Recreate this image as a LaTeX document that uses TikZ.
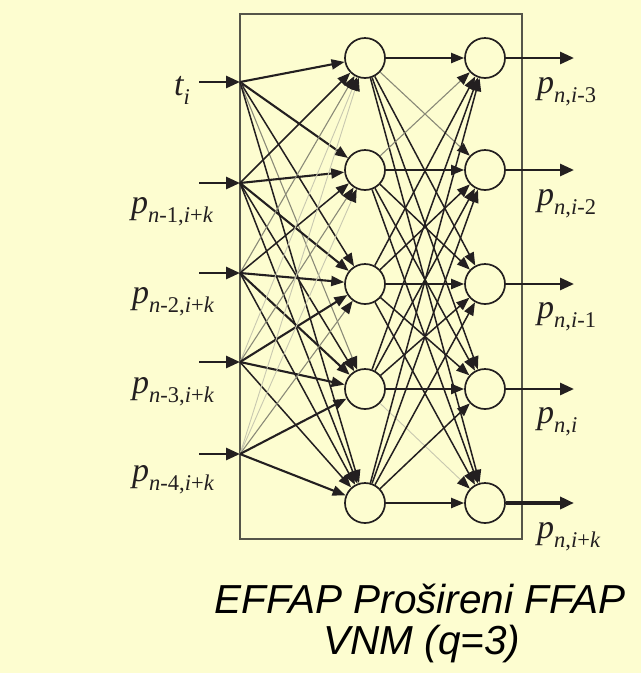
\documentclass[tikz,border=0pt]{standalone}
\usepackage{fontspec}
\setmainfont{Liberation Serif}
\newfontfamily\titlefont{Liberation Sans}
\usetikzlibrary{arrows.meta}
\definecolor{bg}{HTML}{FDFDD0}
\definecolor{ink}{HTML}{231F20}
\definecolor{boxc}{HTML}{55554A}
\definecolor{midg}{HTML}{8A8A78}
\definecolor{lightg}{HTML}{C8C8B0}
\newcommand{\mainp}[1]{{\fontsize{34}{34}\selectfont\itshape #1}}
\newcommand{\subt}[1]{\raisebox{-9pt}{\fontsize{22.5}{22.5}\selectfont #1}}
\tikzset{
  neuron/.style={circle, draw=ink, line width=1.7pt, fill=bg, minimum size=40pt, inner sep=0pt},
  tipS/.style={-{Triangle[length=13pt,width=10pt,color=ink]}},
  wA/.style={tipS, draw=ink, line width=2.1pt},
  wB/.style={tipS, draw=ink, line width=1.5pt},
  wC/.style={tipS, draw=midg, line width=1.1pt},
  wD/.style={tipS, draw=lightg, line width=0.9pt},
  inarrow/.style={draw=ink, line width=2.8pt, -{Triangle[length=14pt,width=12pt]}},
  outarrow/.style={draw=ink, line width=2.8pt, -{Triangle[length=14pt,width=12pt]}},
  outthick/.style={draw=ink, line width=4.2pt, -{Triangle[length=14pt,width=12pt]}},
  lab/.style={anchor=base west, inner sep=0pt, text=ink},
  ttl/.style={anchor=base, inner sep=0pt, text=black, font=\titlefont\itshape\fontsize{40.5}{42}\selectfont}
}
\begin{document}
\begin{tikzpicture}[x=1pt,y=-1pt]
\fill[bg] (0,0) rectangle (641,673);
\useasboundingbox (0,0) rectangle (641,673);
\draw[boxc, line width=2pt] (240,14) rectangle (522,539);
% input points
\foreach \i/\y in {1/82,2/183,3/273,4/362,5/454}{
  \coordinate (in\i) at (240,\y);
  \coordinate (s\i) at (199,\y);
}
% hidden and output neurons
\foreach \j/\y in {1/58,2/170,3/284,4/389,5/503}{
  \node[neuron] (h\j) at (365,\y) {};
  \node[neuron] (o\j) at (485,\y) {};
  \coordinate (e\j) at (574,\y);
}
% input arrows
\foreach \i in {1,...,5}{ \draw[inarrow] (s\i) -- (in\i); }
% input -> hidden
\foreach \i/\j/\s in {
  1/1/wA,1/2/wA,1/3/wB,1/4/wC,1/5/wB,
  2/1/wB,2/2/wA,2/3/wA,2/4/wB,2/5/wB,
  3/1/wC,3/2/wB,3/3/wA,3/4/wA,3/5/wB,
  4/1/wD,4/2/wC,4/3/wA,4/4/wA,4/5/wB,
  5/1/wD,5/2/wD,5/3/wC,5/4/wA,5/5/wA}{
  \draw[\s] (in\i) -- (h\j);
}
% hidden -> output
\foreach \j/\k/\s in {
  1/1/wA,1/2/wC,1/3/wB,1/4/wB,1/5/wB,
  2/1/wC,2/2/wA,2/3/wB,2/4/wB,2/5/wB,
  3/1/wB,3/2/wB,3/3/wA,3/4/wB,3/5/wB,
  4/1/wB,4/2/wB,4/3/wB,4/4/wA,4/5/wD,
  5/1/wB,5/2/wB,5/3/wB,5/4/wB,5/5/wA}{
  \draw[\s] (h\j) -- (o\k);
}
% output arrows
\foreach \k in {1,...,4}{ \draw[outarrow] (o\k.east) -- (e\k); }
\draw[outthick] (o5.east) -- (e5);
% input labels
\node[lab] (lt) at (174,95) {\mainp{t}\subt{\itshape i}};
\node[lab] (l2) at (131,213) {\mainp{p}\subt{{\itshape n}-1,{\itshape i}+{\itshape k}}};
\node[lab] (l3) at (132,303) {\mainp{p}\subt{{\itshape n}-2,{\itshape i}+{\itshape k}}};
\node[lab] (l4) at (132,393) {\mainp{p}\subt{{\itshape n}-3,{\itshape i}+{\itshape k}}};
\node[lab] (l5) at (132,481) {\mainp{p}\subt{{\itshape n}-4,{\itshape i}+{\itshape k}}};
% output labels
\node[lab] (r1) at (537,93) {\mainp{p}\subt{{\itshape n},{\itshape i}-3}};
\node[lab] (r2) at (537,205) {\mainp{p}\subt{{\itshape n},{\itshape i}-2}};
\node[lab] (r3) at (537,318) {\mainp{p}\subt{{\itshape n},{\itshape i}-1}};
\node[lab] (r4) at (537,423) {\mainp{p}\subt{{\itshape n},{\itshape i}}};
\node[lab] (r5) at (537,538) {\mainp{p}\subt{{\itshape n},{\itshape i}+{\itshape k}}};
% title
\node[ttl] (t1) at (420,613) {EFFAP Prošireni FFAP};
\node[ttl] (t2) at (422,654) {VNM (q=3)};
\end{tikzpicture}
\end{document}
